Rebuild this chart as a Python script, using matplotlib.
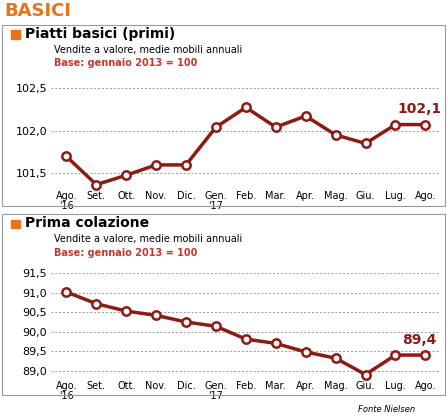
import matplotlib
matplotlib.use("Agg")
import matplotlib.pyplot as plt
from matplotlib.patches import Rectangle

months = ["Ago.\n'16", "Set.", "Ott.", "Nov.", "Dic.", "Gen.\n'17", "Feb.", "Mar.", "Apr.", "Mag.", "Giu.", "Lug.", "Ago."]
piatti = [101.70, 101.37, 101.48, 101.60, 101.60, 102.04, 102.27, 102.04, 102.17, 101.95, 101.85, 102.07, 102.07]
colazione = [91.02, 90.72, 90.53, 90.42, 90.25, 90.14, 89.81, 89.70, 89.48, 89.32, 88.90, 89.40, 89.4]
piatti_ticks = [101.5, 102.0, 102.5]
colazione_ticks = [89.0, 89.5, 90.0, 90.5, 91.0, 91.5]

RED = "#8c1c13"
ORANGE = "#e8731a"
fig = plt.figure(figsize=(4.47, 4.16), dpi=100)
fig.text(0.01, 0.995, "BASICI", color=ORANGE, fontsize=13, fontweight="bold", va="top", family="Liberation Sans Narrow")

for (y0, h) in [(0.505, 0.435), (0.05, 0.435)]:
    fig.patches.append(Rectangle((0.005, y0), 0.99, h, transform=fig.transFigure, fill=False, ec="#999999", lw=0.8))

def panel(bottom, data, ticks, ylim, title, lastlabel, fmt, top):
    ax = fig.add_axes([0.115, bottom, 0.87, 0.262])
    x = range(len(data))
    ax.plot(x, data, color=RED, lw=2.5, marker="o", ms=6, mfc="white", mec=RED, mew=1.8, zorder=3, clip_on=False)
    ax.set_ylim(*ylim)
    ax.set_xlim(-0.5, len(data) - 0.5)
    ax.set_yticks(ticks)
    ax.set_yticklabels([fmt(t).replace(".", ",") for t in ticks], fontsize=8)
    ax.set_xticks(list(x))
    ax.set_xticklabels(months, fontsize=7, va="top", linespacing=1.0)
    ax.grid(axis="y", ls=(0, (2, 2)), color="#999999", lw=0.7)
    for s in ax.spines.values():
        s.set_visible(False)
    ax.tick_params(length=0, pad=3)
    ax.annotate(lastlabel, (len(data) - 1, data[-1]), xytext=(-4, 8), textcoords="offset points",
                ha="center", color=RED, fontsize=10, fontweight="bold")
    fig.patches.append(Rectangle((0.025, top - 0.028), 0.02, 0.02, transform=fig.transFigure, color=ORANGE))
    fig.text(0.055, top, title, fontsize=10, fontweight="bold", va="top")
    fig.text(0.12, top - 0.042, "Vendite a valore, medie mobili annuali", fontsize=7, va="top")
    fig.text(0.12, top - 0.075, "Base: gennaio 2013 = 100", fontsize=7, va="top", color="#c0392b", fontweight="bold")
    return ax

panel(0.552, piatti, piatti_ticks, (101.35, 102.62), "Piatti basici (primi)", "102,1", lambda t: f"{t:.1f}", 0.935)
panel(0.095, colazione, colazione_ticks, (88.85, 91.65), "Prima colazione", "89,4", lambda t: f"{t:.1f}", 0.48)
fig.text(0.8, 0.01, "Fonte Nielsen", fontsize=6, style="italic")
fig.savefig("out.png", dpi=100)
